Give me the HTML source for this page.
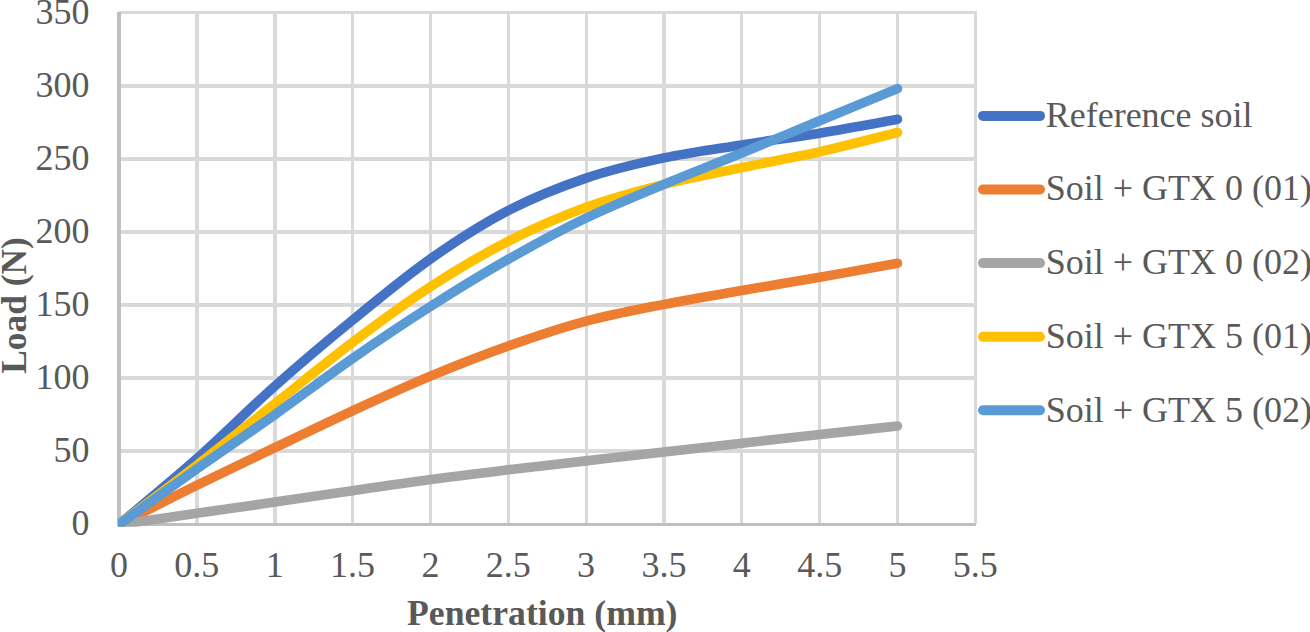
<!DOCTYPE html>
<html><head><meta charset="utf-8"><title>Chart</title>
<style>
html,body{margin:0;padding:0;background:#fff;}
body{width:1310px;height:632px;overflow:hidden;font-family:"Liberation Serif",serif;}
svg{display:block;}
text{font-family:"Liberation Serif",serif;fill:#595959;font-size:36px;}
.b{font-weight:bold;}
</style></head><body>
<svg width="1310" height="632" viewBox="0 0 1310 632">
<rect x="0" y="0" width="1310" height="632" fill="#ffffff"/>
<defs><clipPath id="plotclip"><rect x="118" y="0" width="1192" height="526.7"/></clipPath></defs>
<g fill="#D9D9D9" shape-rendering="crispEdges">
<rect x="119" y="11" width="858" height="3"/>
<rect x="119" y="84" width="858" height="4"/>
<rect x="119" y="157" width="858" height="4"/>
<rect x="119" y="230" width="858" height="4"/>
<rect x="119" y="303" width="858" height="4"/>
<rect x="119" y="376" width="858" height="4"/>
<rect x="119" y="449" width="858" height="4"/>
<rect x="195" y="11" width="4" height="513"/>
<rect x="273" y="11" width="4" height="513"/>
<rect x="351" y="11" width="3" height="513"/>
<rect x="429" y="11" width="3" height="513"/>
<rect x="507" y="11" width="3" height="513"/>
<rect x="585" y="11" width="3" height="513"/>
<rect x="662" y="11" width="4" height="513"/>
<rect x="740" y="11" width="3" height="513"/>
<rect x="818" y="11" width="3" height="513"/>
<rect x="896" y="11" width="3" height="513"/>
<rect x="974" y="11" width="3" height="513"/>
</g>
<g fill="#BFBFBF" shape-rendering="crispEdges">
<rect x="117" y="12" width="4" height="514"/>
<rect x="117" y="523" width="859" height="3"/>
</g>
<g fill="none" stroke-width="9.6" stroke-linecap="round" stroke-linejoin="round" clip-path="url(#plotclip)">
<path d="M119.00,524.50 C131.97,513.53 170.90,481.71 196.85,458.67 C222.80,435.63 248.75,409.35 274.70,386.27 C300.65,363.18 326.60,341.36 352.55,320.15 C378.50,298.94 404.45,277.26 430.40,259.00 C456.35,240.74 482.30,224.07 508.25,210.58 C534.20,197.10 560.15,186.89 586.10,178.11 C612.05,169.33 638.00,163.46 663.95,157.92 C689.90,152.39 715.85,149.02 741.80,144.90 C767.75,140.78 793.70,137.47 819.65,133.20 C845.60,128.93 884.52,121.62 897.50,119.30" stroke="#4472C4"/>
<path d="M119.00,524.50 C131.97,517.97 170.90,498.10 196.85,485.30 C222.80,472.50 248.75,460.11 274.70,447.70 C300.65,435.29 326.60,422.76 352.55,410.84 C378.50,398.92 404.45,386.97 430.40,376.17 C456.35,365.37 482.30,355.21 508.25,346.04 C534.20,336.87 560.15,328.12 586.10,321.17 C612.05,314.22 638.00,309.47 663.95,304.35 C689.90,299.23 715.85,294.96 741.80,290.45 C767.75,285.94 793.70,281.82 819.65,277.29 C845.60,272.75 884.52,265.58 897.50,263.24" stroke="#ED7D31"/>
<path d="M119.00,524.50 C131.97,522.62 170.90,516.97 196.85,513.24 C222.80,509.51 248.75,505.87 274.70,502.12 C300.65,498.36 326.60,494.49 352.55,490.71 C378.50,486.93 404.45,482.93 430.40,479.45 C456.35,475.96 482.30,472.89 508.25,469.79 C534.20,466.70 560.15,463.84 586.10,460.87 C612.05,457.89 638.00,454.90 663.95,451.95 C689.90,449.00 715.85,446.07 741.80,443.17 C767.75,440.27 793.70,437.39 819.65,434.54 C845.60,431.69 884.52,427.47 897.50,426.05" stroke="#A5A5A5"/>
<path d="M119.00,524.50 C131.97,514.63 170.90,485.37 196.85,465.26 C222.80,445.14 248.75,424.30 274.70,403.82 C300.65,383.34 326.60,361.89 352.55,342.38 C378.50,322.88 404.45,303.64 430.40,286.79 C456.35,269.95 482.30,254.54 508.25,241.30 C534.20,228.06 560.15,216.85 586.10,207.36 C612.05,197.88 638.00,191.03 663.95,184.40 C689.90,177.77 715.85,173.01 741.80,167.58 C767.75,162.14 793.70,157.63 819.65,151.78 C845.60,145.93 884.52,135.69 897.50,132.47" stroke="#FFC000"/>
<path d="M119.00,524.50 C131.97,515.24 170.90,487.20 196.85,468.91 C222.80,450.63 248.75,433.20 274.70,414.79 C300.65,396.38 326.60,376.51 352.55,358.47 C378.50,340.43 404.45,323.07 430.40,306.54 C456.35,290.01 482.30,274.04 508.25,259.29 C534.20,244.54 560.15,230.53 586.10,218.04 C612.05,205.56 638.00,195.25 663.95,184.40 C689.90,173.55 715.85,163.55 741.80,152.95 C767.75,142.34 793.70,131.49 819.65,120.77 C845.60,110.04 884.52,93.95 897.50,88.59" stroke="#5B9BD5"/>
</g>
<text x="89.5" y="535.20" text-anchor="end">0</text>
<text x="89.5" y="462.22" text-anchor="end">50</text>
<text x="89.5" y="389.24" text-anchor="end">100</text>
<text x="89.5" y="316.26" text-anchor="end">150</text>
<text x="89.5" y="243.28" text-anchor="end">200</text>
<text x="89.5" y="170.30" text-anchor="end">250</text>
<text x="89.5" y="97.32" text-anchor="end">300</text>
<text x="89.5" y="24.34" text-anchor="end">350</text>
<text x="119.00" y="577" text-anchor="middle">0</text>
<text x="196.85" y="577" text-anchor="middle">0.5</text>
<text x="274.70" y="577" text-anchor="middle">1</text>
<text x="352.55" y="577" text-anchor="middle">1.5</text>
<text x="430.40" y="577" text-anchor="middle">2</text>
<text x="508.25" y="577" text-anchor="middle">2.5</text>
<text x="586.10" y="577" text-anchor="middle">3</text>
<text x="663.95" y="577" text-anchor="middle">3.5</text>
<text x="741.80" y="577" text-anchor="middle">4</text>
<text x="819.65" y="577" text-anchor="middle">4.5</text>
<text x="897.50" y="577" text-anchor="middle">5</text>
<text x="975.35" y="577" text-anchor="middle">5.5</text>
<text class="b" x="407" y="625" textLength="270.5" lengthAdjust="spacingAndGlyphs">Penetration (mm)</text>
<text class="b" transform="translate(26,373.8) rotate(-90)" textLength="136.6" lengthAdjust="spacingAndGlyphs">Load (N)</text>
<line x1="983" y1="115.90" x2="1040" y2="115.90" stroke="#4472C4" stroke-width="10" stroke-linecap="round"/>
<text x="1045.7" y="126.50">Reference soil</text>
<line x1="983" y1="189.50" x2="1040" y2="189.50" stroke="#ED7D31" stroke-width="10" stroke-linecap="round"/>
<text x="1045.7" y="200.25">Soil + GTX 0 (01)</text>
<line x1="983" y1="263.10" x2="1040" y2="263.10" stroke="#A5A5A5" stroke-width="10" stroke-linecap="round"/>
<text x="1045.7" y="274.00">Soil + GTX 0 (02)</text>
<line x1="983" y1="336.70" x2="1040" y2="336.70" stroke="#FFC000" stroke-width="10" stroke-linecap="round"/>
<text x="1045.7" y="347.75">Soil + GTX 5 (01)</text>
<line x1="983" y1="410.30" x2="1040" y2="410.30" stroke="#5B9BD5" stroke-width="10" stroke-linecap="round"/>
<text x="1045.7" y="421.50">Soil + GTX 5 (02)</text>
</svg>
</body></html>
